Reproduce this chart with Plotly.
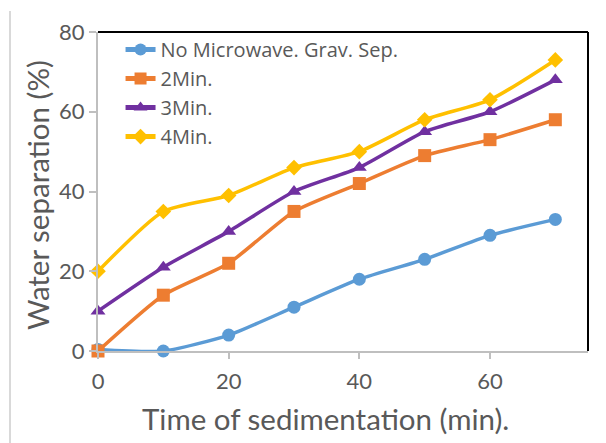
import plotly.graph_objects as go

time_min = [0, 10, 20, 30, 40, 50, 60, 70]
no_microwave = [0.4, 0, 4, 11, 18, 23, 29, 33]
min2 = [0, 14, 22, 35, 42, 49, 53, 58]
min3 = [10, 21, 30, 40, 46, 55, 60, 68]
min4 = [20, 35, 39, 46, 50, 58, 63, 73]

series = [
    ("No Microwave. Grav. Sep.", no_microwave, "#5B9BD5", "circle", 13),
    ("2Min.", min2, "#ED7D31", "square", 13),
    ("3Min.", min3, "#7030A0", "triangle-up", 13),
    ("4Min.", min4, "#FFC000", "diamond", 12),
]

FONT = "Lato, 'Noto Sans', sans-serif"
GRAY = "#595959"

fig = go.Figure()
for name, vals, color, sym, size in series:
    fig.add_trace(go.Scatter(
        x=time_min, y=vals, name=name, mode="lines+markers",
        line=dict(color=color, width=3.5, shape="spline", smoothing=0.6),
        marker=dict(color=color, symbol=sym, size=size),
        cliponaxis=False,
    ))

fig.update_layout(
    width=606, height=443,
    margin=dict(l=98, r=18, t=32, b=92),
    paper_bgcolor="white", plot_bgcolor="white",
    font=dict(family=FONT, color=GRAY),
    showlegend=True,
    legend=dict(x=0.046, y=1.006, xanchor="left", yanchor="top",
                bgcolor="rgba(0,0,0,0)",
                font=dict(size=20, color=GRAY, family="'Open Sans', sans-serif"),
                tracegroupgap=0, itemsizing="constant"),
    xaxis=dict(range=[0, 75], tickvals=[0, 20, 40, 60], showgrid=False,
               zeroline=False, showline=True, linecolor="#BFBFBF", linewidth=2,
               ticks="outside", ticklen=6, tickcolor="#BFBFBF", tickwidth=2,
               tickfont=dict(size=22, color=GRAY), ticklabelstandoff=4),
    yaxis=dict(range=[0, 80], tickvals=[0, 20, 40, 60, 80], showgrid=False,
               zeroline=False, showline=True, linecolor="#BFBFBF", linewidth=2,
               ticks="outside", ticklen=7, tickcolor="#BFBFBF", tickwidth=2,
               tickfont=dict(size=22, color=GRAY)),
    annotations=[
        dict(text="Time of sedimentation (min).", xref="paper", yref="paper",
             x=(325 - 98) / 490, y=-(418 - 351) / 319, xanchor="center", yanchor="middle",
             showarrow=False, font=dict(size=29.5, color=GRAY)),
        dict(text="Water separation (%)", xref="paper", yref="paper",
             x=-(98 - 37) / 490, y=(351 - 195) / 319, xanchor="center", yanchor="middle",
             textangle=-90, showarrow=False, font=dict(size=29.5, color=GRAY)),
    ],
)

# top and right black frame lines
fig.add_shape(type="line", xref="paper", yref="paper", x0=0, x1=1, y0=1, y1=1,
              line=dict(color="black", width=2), layer="below")
fig.add_shape(type="line", xref="paper", yref="paper", x0=1, x1=1, y0=0, y1=1,
              line=dict(color="black", width=2), layer="below")
# light gray vertical line at far left of the image
fig.add_shape(type="line", xref="paper", yref="paper",
              x0=-88/490, x1=-88/490, y0=-92/319, y1=(319+21)/319,
              line=dict(color="#D9D9D9", width=2))

fig.write_html("out.html")
